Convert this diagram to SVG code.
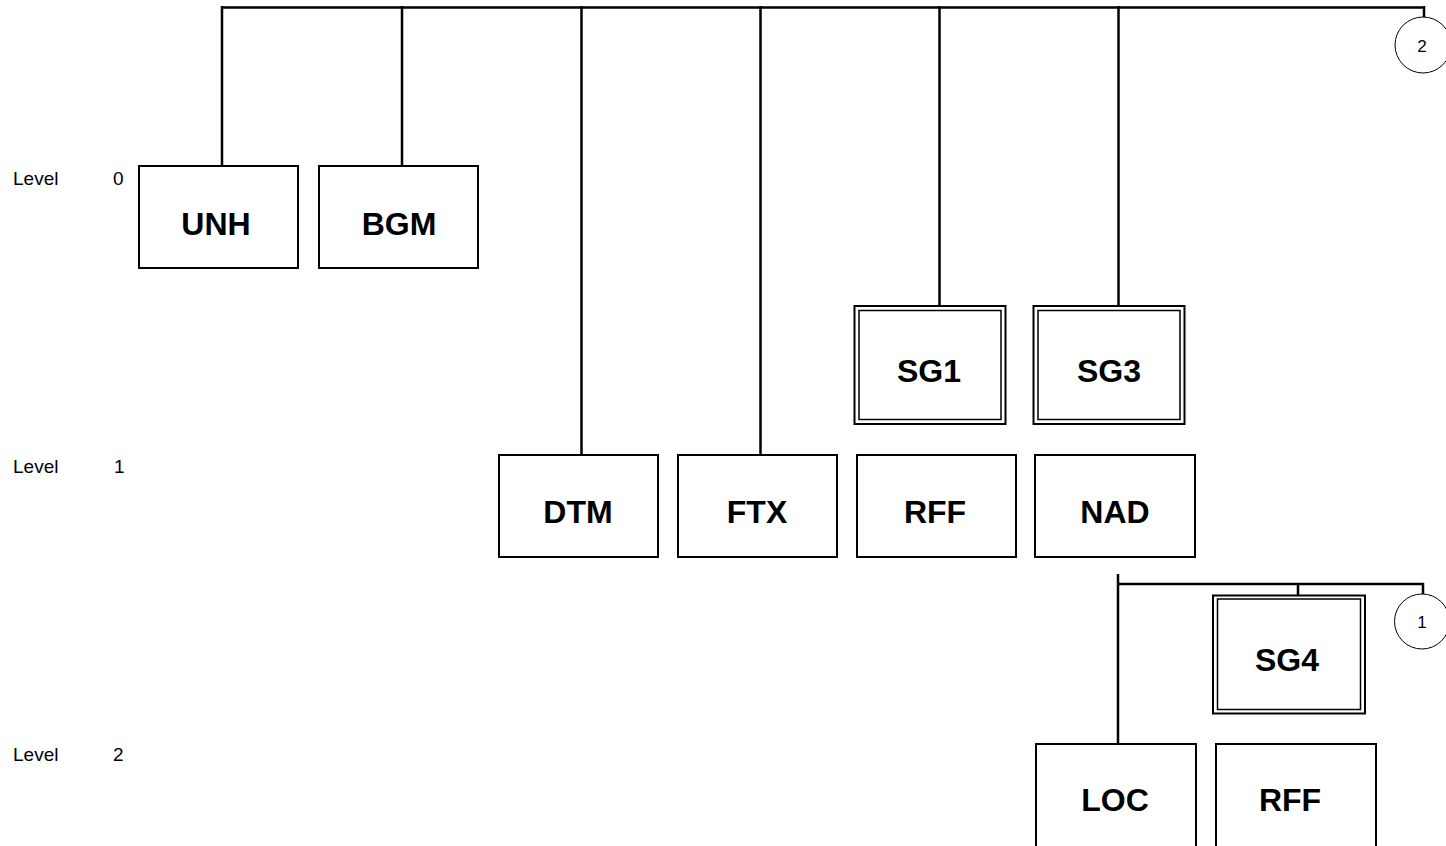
<svg xmlns="http://www.w3.org/2000/svg" width="1446" height="846" viewBox="0 0 1446 846">
<style>
.bg{fill:#fff}
.box{fill:#fff;stroke:#000;stroke-width:2}
.dbo{fill:#fff;stroke:#000;stroke-width:2}
.dbi{fill:none;stroke:#000;stroke-width:1.5}
.lbl{font-family:"Liberation Sans",Arial,sans-serif;font-weight:bold;font-size:32px;text-anchor:middle;fill:#000}
.lvl{font-family:"Liberation Sans",Arial,sans-serif;font-size:19px;fill:#000}
.con{fill:none;stroke:#000;stroke-width:2.5}
.cir{fill:#fff;stroke:#000;stroke-width:1}
.cnum{font-family:"Liberation Sans",Arial,sans-serif;font-size:17px;text-anchor:middle;fill:#000}
</style>
<rect class="bg" x="0" y="0" width="1446" height="846"/>
<g id="levels">
<text class="lvl" x="13" y="185">Level</text>
<text class="lvl" x="113" y="185">0</text>
<text class="lvl" x="13" y="473">Level</text>
<text class="lvl" x="114" y="473">1</text>
<text class="lvl" x="13" y="761">Level</text>
<text class="lvl" x="113" y="761">2</text>
</g>
<g id="connectors">
<path class="con" d="M222 7.5H1424.5M222 6V166M402 6V166M581.5 6V455M760.5 6V455M939.5 6V306M1118.5 6V306M1424 6V17"/>
<path class="con" d="M1118 584H1423.5M1118 574V744M1298 584V595M1423 583V594"/>
</g>
<g id="conn2">
<circle class="cir" cx="1423" cy="45" r="28"/>
<text class="cnum" x="1422" y="52">2</text>
</g>
<g id="conn1">
<circle class="cir" cx="1422" cy="621.5" r="27.5"/>
<text class="cnum" x="1422" y="628">1</text>
</g>
<g id="UNH">
<rect class="box" x="139" y="166" width="159" height="102"/>
<text class="lbl" x="216" y="235">UNH</text>
</g>
<g id="BGM">
<rect class="box" x="319" y="166" width="159" height="102"/>
<text class="lbl" x="399" y="235">BGM</text>
</g>
<g id="SG1">
<rect class="dbo" x="854.5" y="306" width="151" height="118"/>
<rect class="dbi" x="859" y="310.5" width="142" height="109"/>
<text class="lbl" x="929" y="382">SG1</text>
</g>
<g id="SG3">
<rect class="dbo" x="1033.5" y="306" width="151" height="118"/>
<rect class="dbi" x="1038" y="310.5" width="142" height="109"/>
<text class="lbl" x="1109" y="382">SG3</text>
</g>
<g id="DTM">
<rect class="box" x="499" y="455" width="159" height="102"/>
<text class="lbl" x="578" y="523">DTM</text>
</g>
<g id="FTX">
<rect class="box" x="678" y="455" width="159" height="102"/>
<text class="lbl" x="757" y="523">FTX</text>
</g>
<g id="RFF1">
<rect class="box" x="857" y="455" width="159" height="102"/>
<text class="lbl" x="935" y="523">RFF</text>
</g>
<g id="NAD">
<rect class="box" x="1035" y="455" width="160" height="102"/>
<text class="lbl" x="1115" y="523">NAD</text>
</g>
<g id="SG4">
<rect class="dbo" x="1213" y="595.5" width="152" height="118"/>
<rect class="dbi" x="1217.5" y="599" width="143" height="110.5"/>
<text class="lbl" x="1287" y="671">SG4</text>
</g>
<g id="LOC">
<rect class="box" x="1036" y="744" width="160" height="120"/>
<text class="lbl" x="1115" y="811">LOC</text>
</g>
<g id="RFF2">
<rect class="box" x="1216" y="744" width="160" height="120"/>
<text class="lbl" x="1290" y="811">RFF</text>
</g>
</svg>
